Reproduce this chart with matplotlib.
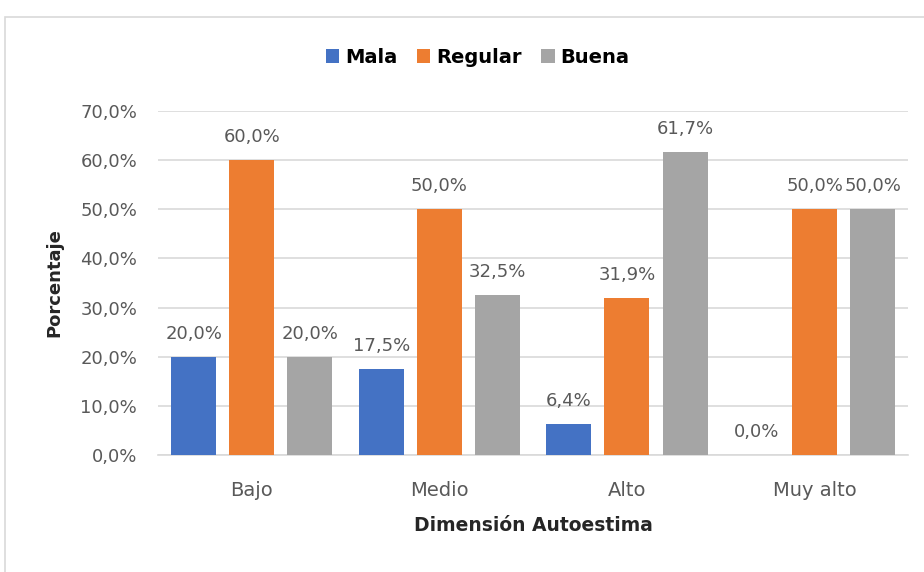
import numpy as np
import matplotlib
matplotlib.use("Agg")
from matplotlib import pyplot as plt
from matplotlib.patches import Rectangle

# datos
categorias = ["Bajo", "Medio", "Alto", "Muy alto"]
series = ["Mala", "Regular", "Buena"]
mala = [20.0, 17.5, 6.4, 0.0]
regular = [60.0, 50.0, 31.9, 50.0]
buena = [20.0, 32.5, 61.7, 50.0]
colores = ["#4472C4", "#ED7D31", "#A5A5A5"]

plt.rcParams["font.family"] = ["DejaVu Sans"]

fig = plt.figure(figsize=(9.24, 5.72), dpi=100)
ax = fig.add_axes([0.171, 0.2045, 0.812, 0.6015])

# borde del área del gráfico
fig.patches.append(Rectangle((0.005, -0.02), 1.1, 0.99, transform=fig.transFigure,
                             fill=False, edgecolor="#d9d9d9", linewidth=1.2))

x = np.arange(len(categorias))
ancho = 0.24
paso = 0.31
for i, (nombre, valores) in enumerate(zip(series, [mala, regular, buena])):
    barras = ax.bar(x + (i - 1) * paso, valores, ancho, color=colores[i],
                    label=nombre, zorder=3)
    for b, v in zip(barras, valores):
        ax.annotate(f"{v:.1f}".replace(".", ",") + "%",
                    (b.get_x() + b.get_width() / 2, v),
                    xytext=(0, 10), textcoords="offset points",
                    ha="center", va="bottom", fontsize=13, color="#595959")

ax.set_xlim(-0.5, 3.5)
ax.set_ylim(0, 70)
ax.set_yticks(np.arange(0, 71, 10))
ax.set_yticklabels([f"{t:.1f}".replace(".", ",") + "%" for t in np.arange(0, 71, 10)])
ax.set_xticks(x)
ax.set_xticklabels(categorias)
ax.tick_params(axis="both", length=0, labelsize=13, colors="#595959")
ax.tick_params(axis="x", labelsize=14, pad=19)
ax.tick_params(axis="y", pad=15)
ax.grid(axis="y", color="#d9d9d9", linewidth=1.2, zorder=0)
for s in ["top", "right", "left"]:
    ax.spines[s].set_visible(False)
ax.spines["bottom"].set_color("#d9d9d9")
ax.spines["bottom"].set_linewidth(1.2)

ax.set_ylabel("Porcentaje", fontsize=13, fontweight="bold", color="#262626", labelpad=12)
ax.set_xlabel("Dimensión Autoestima", fontsize=13.5, fontweight="bold", color="#262626", labelpad=11)

fig.legend(loc="center", bbox_to_anchor=(0.517, 0.9), ncol=3, frameon=False,
           handlelength=0.7, handleheight=0.7, handletextpad=0.3, columnspacing=1.0,
           prop={"weight": "bold", "size": 14})

fig.savefig("out.png", dpi=100)
plt.close(fig)
